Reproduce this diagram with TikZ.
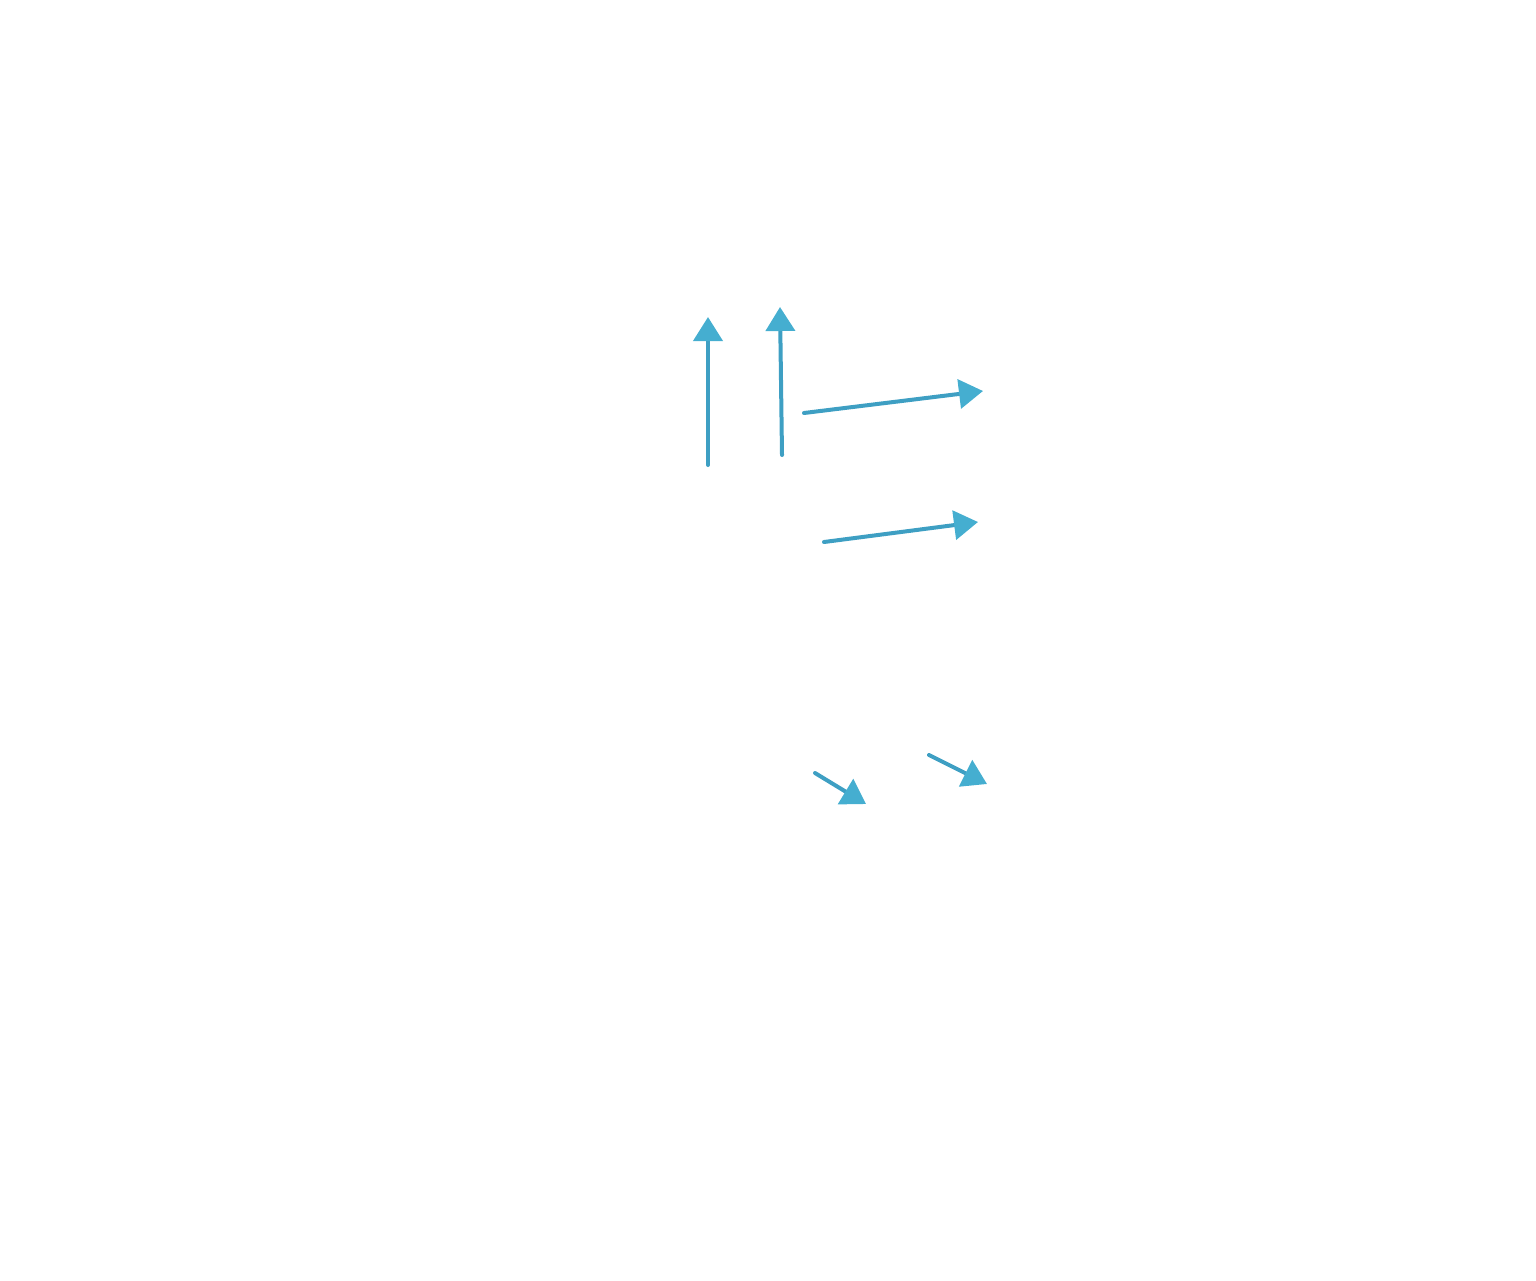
\documentclass[tikz,border=0pt]{standalone}
\usetikzlibrary{arrows.meta}
\definecolor{arrowblue}{HTML}{45AED0}
\definecolor{shaftblue}{HTML}{3E9FC3}
\begin{document}
\begin{tikzpicture}[x=1pt,y=-1pt,
  vec/.style={draw=shaftblue, line width=4pt, line cap=round,
    -{Triangle[width=29pt,length=24pt,fill=arrowblue,color=arrowblue]}}]
\useasboundingbox (0,0) rectangle (1536,1280);
\coordinate (a1) at (708,465); \coordinate (b1) at (708,317);
\coordinate (a2) at (782,455); \coordinate (b2) at (780,307);
\coordinate (a3) at (804,413); \coordinate (b3) at (983,391);
\coordinate (a4) at (824,542); \coordinate (b4) at (978,522);
\coordinate (a5) at (815,773); \coordinate (b5) at (866,804);
\coordinate (a6) at (929,755); \coordinate (b6) at (987,784);
\draw[vec] (a1) -- (b1);
\draw[vec] (a2) -- (b2);
\draw[vec] (a3) -- (b3);
\draw[vec] (a4) -- (b4);
\draw[vec] (a5) -- (b5);
\draw[vec] (a6) -- (b6);
\end{tikzpicture}
\end{document}
